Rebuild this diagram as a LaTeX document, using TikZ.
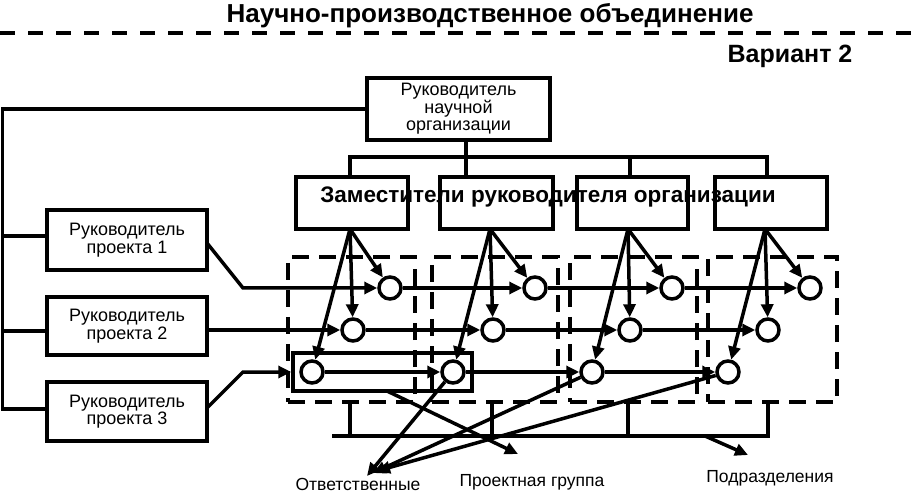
\documentclass[tikz,border=0pt]{standalone}
\usepackage{fontspec}
\setmainfont{Liberation Sans}
\usetikzlibrary{arrows.meta}
\begin{document}
\begin{tikzpicture}[x=1pt,y=-1pt,line width=3.5pt,
  box/.style={draw,line width=3.5pt,fill=white,inner sep=0pt,align=center,font=\fontsize{18}{17.5}\selectfont},
  lbl/.style={font=\fontsize{17.5}{20}\selectfont,inner sep=0pt,anchor=base},
  arr/.style={-{Triangle[length=13pt,width=12pt]}},
  circ/.style={draw,circle,fill=white,minimum size=22pt,inner sep=0pt,line width=3.5pt},
  reg/.style={draw,dash pattern=on 17pt off 10pt,line width=3.5pt,inner sep=0pt},
  ]
\useasboundingbox (0,0) rectangle (913,494);

% title and dashed separator
\node[font=\bfseries\fontsize{26}{30}\selectfont,inner sep=0pt,anchor=base] (title) at (490,23) {Научно-производственное объединение};
\coordinate (DL) at (0,33);
\coordinate (DR) at (913,33);
\draw[line width=4pt,dash pattern=on 15pt off 13pt] (DL) -- (DR);
\node[font=\bfseries\fontsize{25}{30}\selectfont,inner sep=0pt,anchor=base] (var) at (790,63) {Вариант 2};

% dashed regions
\node[reg,minimum width=127pt,minimum height=145pt] (reg1) at (351.5,329.5) {};
\node[reg,minimum width=126pt,minimum height=145pt] (reg2) at (495,329.5) {};
\node[reg,minimum width=127pt,minimum height=145pt] (reg3) at (633.5,329.5) {};
\node[reg,minimum width=129pt,minimum height=145pt] (reg4) at (772.5,329.5) {};

% boxes
\node[box,minimum width=183pt,minimum height=62pt] (top) at (458.5,109) {Руководитель\\научной\\организации};
\node[box,minimum width=160pt,minimum height=60pt] (p1) at (127,240) {Руководитель\\проекта 1};
\node[box,minimum width=160pt,minimum height=58pt] (p2) at (127,326) {Руководитель\\проекта 2};
\node[box,minimum width=160pt,minimum height=59pt] (p3) at (127,411.5) {Руководитель\\проекта 3};
\node[box,minimum width=112pt,minimum height=52pt] (d1) at (352,203) {};
\node[box,minimum width=113pt,minimum height=52pt] (d2) at (496.5,203) {};
\node[box,minimum width=111pt,minimum height=52pt] (d3) at (632.5,203) {};
\node[box,minimum width=112pt,minimum height=52pt] (d4) at (771,203) {};
\node[draw,line width=3.5pt,inner sep=0pt,minimum width=179pt,minimum height=38pt] (grp) at (382.5,372) {};

% left connector
\coordinate (L0) at (2.5,109);
\coordinate (L1) at (2.5,236);
\coordinate (L2) at (2.5,331);
\coordinate (L3) at (2.5,409);
\draw (top.west) -- (L0) -- (L3) -- (L3 -| p3.west);
\draw (L1) -- (L1 -| p1.west);
\draw (L2) -- (L2 -| p2.west);

% top connectors
\coordinate (T0) at (466,157);
\coordinate (H1) at (350,157);
\coordinate (H3) at (630,157);
\coordinate (H4) at (767,157);
\draw (T0 |- top.south) -- (T0) -- (T0 |- d2.north);
\draw (H1 |- d1.north) -- (H1) -- (H4) -- (H4 |- d4.north);
\draw (H3) -- (H3 |- d3.north);

% circles
\node[circ] (c11) at (390,288) {};
\node[circ] (c12) at (535,288) {};
\node[circ] (c13) at (672,288) {};
\node[circ] (c14) at (810,288) {};
\node[circ] (c21) at (353,330) {};
\node[circ] (c22) at (493,330) {};
\node[circ] (c23) at (630,330) {};
\node[circ] (c24) at (768,330) {};
\node[circ] (c31) at (312,372) {};
\node[circ] (c32) at (453,372) {};
\node[circ] (c33) at (592,372) {};
\node[circ] (c34) at (728,372) {};

% rows
\coordinate (R1a) at (207,243);
\coordinate (R1b) at (243,288);
\draw[arr] (R1a) -- (R1b) -- (c11);
\draw[arr] (c11) -- (c12);
\draw[arr] (c12) -- (c13);
\draw[arr] (c13) -- (c14);
\coordinate (R2a) at (207,330);
\draw[arr] (R2a) -- (c21);
\draw[arr] (c21) -- (c22);
\draw[arr] (c22) -- (c23);
\draw[arr] (c23) -- (c24);
\coordinate (R3a) at (207,408);
\coordinate (R3b) at (243,372);
\draw[arr] (R3a) -- (R3b) -- (R3b -| grp.west);
\draw[arr] (c31) -- (c32);
\draw[arr] (c32) -- (c33);
\draw[arr] (c33) -- (c34);

% fans
\coordinate (F1) at (350,229);
\coordinate (F2) at (490,229);
\coordinate (F3) at (628,229);
\coordinate (F4) at (765,229);
\draw[arr] (F1) -- (c11);
\draw[arr] (F1) -- (c21);
\draw[arr] (F1) -- (c31);
\draw[arr] (F2) -- (c12);
\draw[arr] (F2) -- (c22);
\draw[arr] (F2) -- (c32);
\draw[arr] (F3) -- (c13);
\draw[arr] (F3) -- (c23);
\draw[arr] (F3) -- (c33);
\draw[arr] (F4) -- (c14);
\draw[arr] (F4) -- (c24);
\draw[arr] (F4) -- (c34);

% bottom bracket
\coordinate (V1) at (350,403);
\coordinate (V2) at (492,403);
\coordinate (V3) at (628,403);
\coordinate (V4) at (768,403);
\coordinate (HL) at (332,436);
\draw (HL) -- (HL -| V4) -- (V4);
\draw (V1) -- (V1 |- HL);
\draw (V2) -- (V2 |- HL);
\draw (V3) -- (V3 |- HL);

% label arrows
\coordinate (G0) at (387,391);
\coordinate (G1) at (518,454);
\draw[arr] (G0) -- (G1);
\coordinate (S0) at (705,436);
\coordinate (S1) at (748,455);
\draw[arr] (S0) -- (S1);
\coordinate (O1) at (367,476);
\coordinate (O2) at (373,473);
\coordinate (O3) at (377,471);
\draw[arr] (c32) -- (O1);
\draw[arr] (c33) -- (O2);
\draw[arr] (c34) -- (O3);

% texts
\node[font=\bfseries\fontsize{22.5}{24}\selectfont,inner sep=0pt] (dt) at (548,197) {Заместители руководителя организации};
\node[lbl] (otv) at (358,490) {Ответственные};
\node[lbl] (pg) at (532,486) {Проектная группа};
\node[lbl] (pod) at (770,482) {Подразделения};
\end{tikzpicture}
\end{document}
